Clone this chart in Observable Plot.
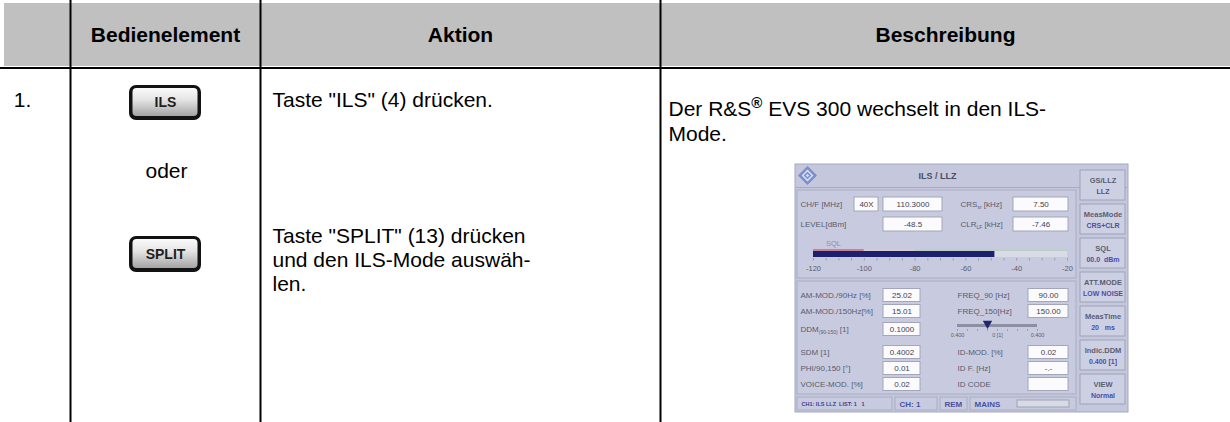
<!DOCTYPE html>
<html><head><meta charset="utf-8">
<script src="https://cdn.jsdelivr.net/npm/d3@7"></script>
<script src="https://cdn.jsdelivr.net/npm/@observablehq/plot@0.6"></script>
<style>
html,body{margin:0;padding:0;background:#fff;}
#chart{width:1230px;height:422px;overflow:hidden;}
</style></head><body><div id="chart"></div>
<script>
// ---------- data ----------
const headers = ["", "Bedienelement", "Aktion", "Beschreibung"];
const stepNumbers = ["1."];
const keyLabels = ["ILS", "SPLIT"];
const alternativeWord = "oder";
const actionLines = ["Taste \"ILS\" (4) drücken.", "Taste \"SPLIT\" (13) drücken", "und den ILS-Mode auswäh-", "len."];
const descriptionLines = ["Der R&S® EVS 300 wechselt in den ILS-", "Mode."];

const panelTitle = "ILS / LLZ";
const channelBand = "40X";
const topLeftLabels = ["CH/F [MHz]", "LEVEL[dBm]"];
const topLeftValues = ["110.3000", "-48.5"];
const topRightLabels = ["CRS{sr} [kHz]", "CLR{LF} [kHz]"];
const topRightValues = ["7.50", "-7.46"];
const meterTicks = [-120, -100, -80, -60, -40, -20];
const sqlThreshold = -100;
const lowLeftLabels = ["AM-MOD./90Hz [%]", "AM-MOD./150Hz[%]", "DDM{(90-150)} [1]", "SDM [1]", "PHI/90,150 [°]", "VOICE-MOD. [%]"];
const lowLeftValues = ["25.02", "15.01", "0.1000", "0.4002", "0.01", "0.02"];
const lowRightLabels = ["FREQ_90 [Hz]", "FREQ_150[Hz]", "", "ID-MOD. [%]", "ID F. [Hz]", "ID CODE"];
const lowRightValues = ["90.00", "150.00", null, "0.02", "-.-", ""];
const ddmTickLabels = ["0.400", "0 [1]", "0.400"];
const ddmTickValues = [0.4, 0, -0.4];
const softKeyTitles = ["GS/LLZ", "MeasMode", "SQL", "ATT.MODE", "MeasTime", "Indic.DDM", "VIEW"];
const softKeyValues = ["LLZ", "CRS+CLR", "00.0  dBm", "LOW NOISE", "20   ms", "0.400 [1]", "Normal"];
const statusItems = ["CH1: ILS LLZ  LIST: 1   1", "CH: 1", "REM", "MAINS"];

// ---------- layout ----------
const W = 1230, H = 422;
const colEdges = [0, 70, 260, 660, W];
const headerTop = 3, headerBottom = 66, headerRule = 67.5;
const FONT = "Liberation Sans, Arial, Helvetica, sans-serif";
const bodySize = 21;
const P = {x: 795, y: 164, w: 333, h: 248};
const px = v => P.x + v * P.w / 333;
const py = v => P.y + v * P.h / 248;

const level = +topLeftValues[1];
const ddm = +lowLeftValues[2];
const meter = Plot.scale({x: {domain: [-120, -20], range: [px(18), px(272)]}});
const ddmScale = Plot.scale({x: {domain: [0.4, -0.4], range: [px(162), px(242)]}});

// ---------- table ----------
const headerTexts = headers.map((t, i) => ({x: (colEdges[i] + colEdges[i + 1]) / 2, y: 35, text: t}));
const buttons = keyLabels.map((t, i) => ({x1: 129, x2: 201, y1: [85, 236][i], y2: [120, 272][i], text: t}));
const leftTexts = [
  {x: 22, y: 100, text: stepNumbers[0], a: "start"},
  {x: 166, y: 171, text: alternativeWord, a: "middle"}
];
const actionTexts = actionLines.map((t, i) => ({x: 272, y: [100, 236, 260, 284][i], text: t}));
const descTexts = descriptionLines.map((t, i) => ({x: 668, y: 109 + i * 25, text: t}));

// ---------- panel ----------
const boxes = [], labels = [], values = [];
topLeftLabels.forEach((l, i) => {
  const yc = [40, 60][i];
  labels.push({x: px(5), y: py(yc), text: l});
  boxes.push({x1: px(88), x2: px(147), y1: py(yc - 7), y2: py(yc + 7)});
  values.push({x: px(117.5), y: py(yc), text: topLeftValues[i]});
  labels.push({x: px(165), y: py(yc), text: topRightLabels[i]});
  boxes.push({x1: px(218), x2: px(273), y1: py(yc - 7), y2: py(yc + 7)});
  values.push({x: px(245.5), y: py(yc), text: topRightValues[i]});
});
boxes.push({x1: px(59), x2: px(83), y1: py(33), y2: py(47)});
values.push({x: px(71), y: py(40), text: channelBand});
const lowY = [131, 147, 165, 188, 204, 220];
lowLeftLabels.forEach((l, i) => {
  const yc = lowY[i];
  labels.push({x: px(5), y: py(yc), text: l});
  boxes.push({x1: px(88), x2: px(125), y1: py(yc - 6.5), y2: py(yc + 6.5)});
  values.push({x: px(106.5), y: py(yc), text: lowLeftValues[i]});
  if (lowRightValues[i] !== null) {
    labels.push({x: px(162), y: py(yc), text: lowRightLabels[i]});
    boxes.push({x1: px(233), x2: px(273), y1: py(yc - 6.5), y2: py(yc + 6.5)});
    values.push({x: px(253), y: py(yc), text: lowRightValues[i]});
  }
});
const frames = [
  {x1: px(2), x2: px(281), y1: py(26), y2: py(114)},
  {x1: px(2), x2: px(281), y1: py(117), y2: py(230)}
];
const statusSeg = [[2, 97], [100, 142], [145, 172], [175, 281]];
const statusBoxes = statusSeg.map(([a, b]) => ({x1: px(a), x2: px(b), y1: py(233), y2: py(246)}));
const statusTexts = statusItems.map((t, i) => ({x: px(statusSeg[i][0] + 4), y: py(239.5), text: t, small: i === 0}));
const softKeys = softKeyTitles.map((t, i) => ({x1: px(285), x2: px(330), y1: py(6 + 34 * i), y2: py(36 + 34 * i), t, v: softKeyValues[i], xc: px(307.5), yc: py(6 + 34 * i)}));
const meterSegments = [
  {a: -120, b: level, fill: "#1d206c"},
  {a: level, b: -20, fill: "#d9dce6"}
];
const threshSegments = [
  {a: -120, b: sqlThreshold, stroke: "#c86a7c"},
  {a: sqlThreshold, b: -80, stroke: "#e3c8cf"},
  {a: -80, b: -20, stroke: "#b7d2bc"}
];
const minorTicks = d3.range(-120, -19, 5);

const chart = Plot.plot({
  width: W, height: H,
  margin: 0,
  x: {domain: [0, W], range: [0, W], axis: null},
  y: {domain: [0, H], range: [0, H], axis: null},
  style: {fontFamily: FONT, background: "#fff"},
  marks: [
    // header
    Plot.rect([0], {x1: () => 4, x2: () => W, y1: () => headerTop, y2: () => headerBottom, fill: "#c0c0c0"}),
    Plot.ruleX(colEdges.slice(1, 4), {x: d => d, y1: () => 0, y2: () => H, stroke: "#000", strokeWidth: 2}),
    Plot.ruleY([headerRule], {y: d => d, x1: () => 0, x2: () => W, stroke: "#000", strokeWidth: 2}),
    Plot.text(headerTexts, {x: "x", y: "y", text: "text", fontSize: bodySize, fontWeight: "bold", fill: "#000", fontFamily: FONT}),
    // body text
    Plot.text(leftTexts, {x: "x", y: "y", text: "text", textAnchor: d => d.a, fontSize: bodySize, fill: "#000", fontFamily: FONT}),
    Plot.text(actionTexts, {x: "x", y: "y", text: "text", textAnchor: "start", fontSize: bodySize, fill: "#000", fontFamily: FONT}),
    Plot.text(descTexts, {x: "x", y: "y", text: "text", textAnchor: "start", fontSize: bodySize, fill: "#000", fontFamily: FONT}),
    // keys
    Plot.rect(buttons, {x1: "x1", x2: "x2", y1: "y1", y2: "y2", fill: "#121212", rx: 7}),
    Plot.rect(buttons, {x1: d => d.x1 + 3.5, x2: d => d.x2 - 3.5, y1: d => d.y1 + 3, y2: d => d.y2 - 4, fill: "#abcdef", rx: 4}),
    Plot.text(buttons, {x: d => (d.x1 + d.x2) / 2, y: d => (d.y1 + d.y2) / 2, text: "text", fontSize: 14, fontWeight: "bold", fill: "#1e1e1e", fontFamily: FONT}),
    // screenshot panel
    Plot.rect([P], {x1: d => d.x, x2: d => d.x + d.w, y1: d => d.y, y2: d => d.y + d.h, fill: "#c5c8dc", stroke: "#a4a8be"}),
    Plot.ruleY([py(23)], {y: d => d, x1: () => px(1), x2: () => px(332), stroke: "#a7abc1"}),
    Plot.dot([0], {x: () => px(12), y: () => py(11), symbol: "diamond2", r: 7, stroke: "#7c8fcc", strokeWidth: 2.5, fill: "#d8dcf0"}),
    Plot.dot([0], {x: () => px(12), y: () => py(11), symbol: "diamond2", r: 2.5, stroke: "#7c8fcc", strokeWidth: 1.5}),
    Plot.text([panelTitle], {x: () => px(142), y: () => py(12), text: d => d, fontSize: 9, fontWeight: "bold", fill: "#4a4d62", fontFamily: FONT}),
    Plot.rect(frames, {x1: "x1", x2: "x2", y1: "y1", y2: "y2", fill: "#c8cbdf", stroke: "#a9adc3"}),
    Plot.rect(boxes, {x1: "x1", x2: "x2", y1: "y1", y2: "y2", fill: "#fbfbfd", stroke: "#a2a6b8"}),
    Plot.text(labels, {x: "x", y: "y", text: "text", textAnchor: "start", fontSize: 8, fill: "#575b70", fontFamily: FONT}),
    Plot.text(values, {x: "x", y: "y", text: "text", fontSize: 8, fill: "#3f4255", fontFamily: FONT}),
    // level meter
    Plot.text(["SQL"], {x: () => px(38), y: () => py(79), text: d => d, fontSize: 7.5, fill: "#9a8a9a", fontFamily: FONT}),
    Plot.ruleY(threshSegments, {y: () => py(85.5), x1: d => meter.apply(d.a), x2: d => meter.apply(d.b), stroke: d => d.stroke, strokeWidth: 1.5}),
    Plot.rect(meterSegments, {x1: d => meter.apply(d.a), x2: d => meter.apply(d.b), y1: () => py(87), y2: () => py(93), fill: d => d.fill}),
    Plot.ruleX(minorTicks, {x: d => meter.apply(d), y1: () => py(94), y2: () => py(96.5), stroke: "#9a9eb0"}),
    Plot.text(meterTicks, {x: d => meter.apply(d), y: () => py(104), text: d => String(d), fontSize: 7.5, fill: "#575b70", fontFamily: FONT}),
    // DDM slider
    Plot.ruleY([0], {y: () => py(161), x1: () => ddmScale.apply(0.4), x2: () => ddmScale.apply(-0.4), stroke: "#8d90a2", strokeWidth: 3}),
    Plot.ruleX(d3.range(-0.4, 0.41, 0.1), {x: d => ddmScale.apply(d), y1: () => py(165), y2: () => py(167), stroke: "#9a9eb0"}),
    Plot.dot([ddm], {x: d => ddmScale.apply(d), y: () => py(159), symbol: "triangle", rotate: 180, r: 3.5, fill: "#23266e", stroke: "none"}),
    Plot.text(ddmTickLabels, {x: (d, i) => ddmScale.apply(ddmTickValues[i]), y: () => py(171), text: d => d, fontSize: 5.5, fill: "#575b70", fontFamily: FONT}),
    // status bar
    Plot.rect(statusBoxes, {x1: "x1", x2: "x2", y1: "y1", y2: "y2", fill: "#c8cbdf", stroke: "#a9adc3"}),
    Plot.rect([0], {x1: () => px(222), x2: () => px(274), y1: () => py(236), y2: () => py(243), fill: "#d8dbe6", stroke: "#9ea2b4"}),
    Plot.text(statusTexts, {x: "x", y: "y", text: "text", textAnchor: "start", fontSize: d => d.small ? 5.5 : 8, fontWeight: "bold", fill: d => d.small ? "#3a3d8a" : "#4a4fa0", fontFamily: FONT}),
    // soft keys
    Plot.rect(softKeys, {x1: "x1", x2: "x2", y1: "y1", y2: "y2", fill: "#cdd0e3", stroke: "#9ea2b8"}),
    Plot.text(softKeys, {x: "xc", y: d => d.yc + 10, text: "t", fontSize: 7.5, fontWeight: "bold", fill: "#5a5e72", fontFamily: FONT}),
    Plot.text(softKeys, {x: "xc", y: d => d.yc + 21, text: "v", fontSize: 7, fontWeight: "bold", fill: "#4a4fa6", fontFamily: FONT})
  ]
});

// button gradient
const svg = d3.select(chart);
const defs = svg.insert("defs", ":first-child");
const g = defs.append("linearGradient").attr("id", "keyGrad").attr("x1", 0).attr("y1", 0).attr("x2", 0).attr("y2", 1);
g.append("stop").attr("offset", "0%").attr("stop-color", "#fafafa");
g.append("stop").attr("offset", "40%").attr("stop-color", "#e6e6e6");
g.append("stop").attr("offset", "100%").attr("stop-color", "#a4a4a4");
svg.selectAll("[fill='#abcdef']").attr("fill", "url(#keyGrad)");

// superscript ® and subscripts {..}
svg.selectAll("text").each(function () {
  const t = this.textContent;
  const sel = d3.select(this);
  if (t.includes("®")) {
    const [a, b] = t.split("®");
    sel.text(null);
    sel.append("tspan").text(a);
    sel.append("tspan").attr("font-size", 15).attr("font-weight", "bold").attr("dy", -8).text("®");
    sel.append("tspan").attr("dy", 8).text(b);
  } else if (/\{.*\}/.test(t)) {
    const m = t.match(/^(.*)\{(.*)\}(.*)$/);
    sel.text(null);
    sel.append("tspan").text(m[1]);
    sel.append("tspan").attr("font-size", 5).attr("dy", 2).text(m[2]);
    sel.append("tspan").attr("dy", -2).text(m[3]);
  }
});

document.getElementById("chart").append(chart);
</script></body></html>
